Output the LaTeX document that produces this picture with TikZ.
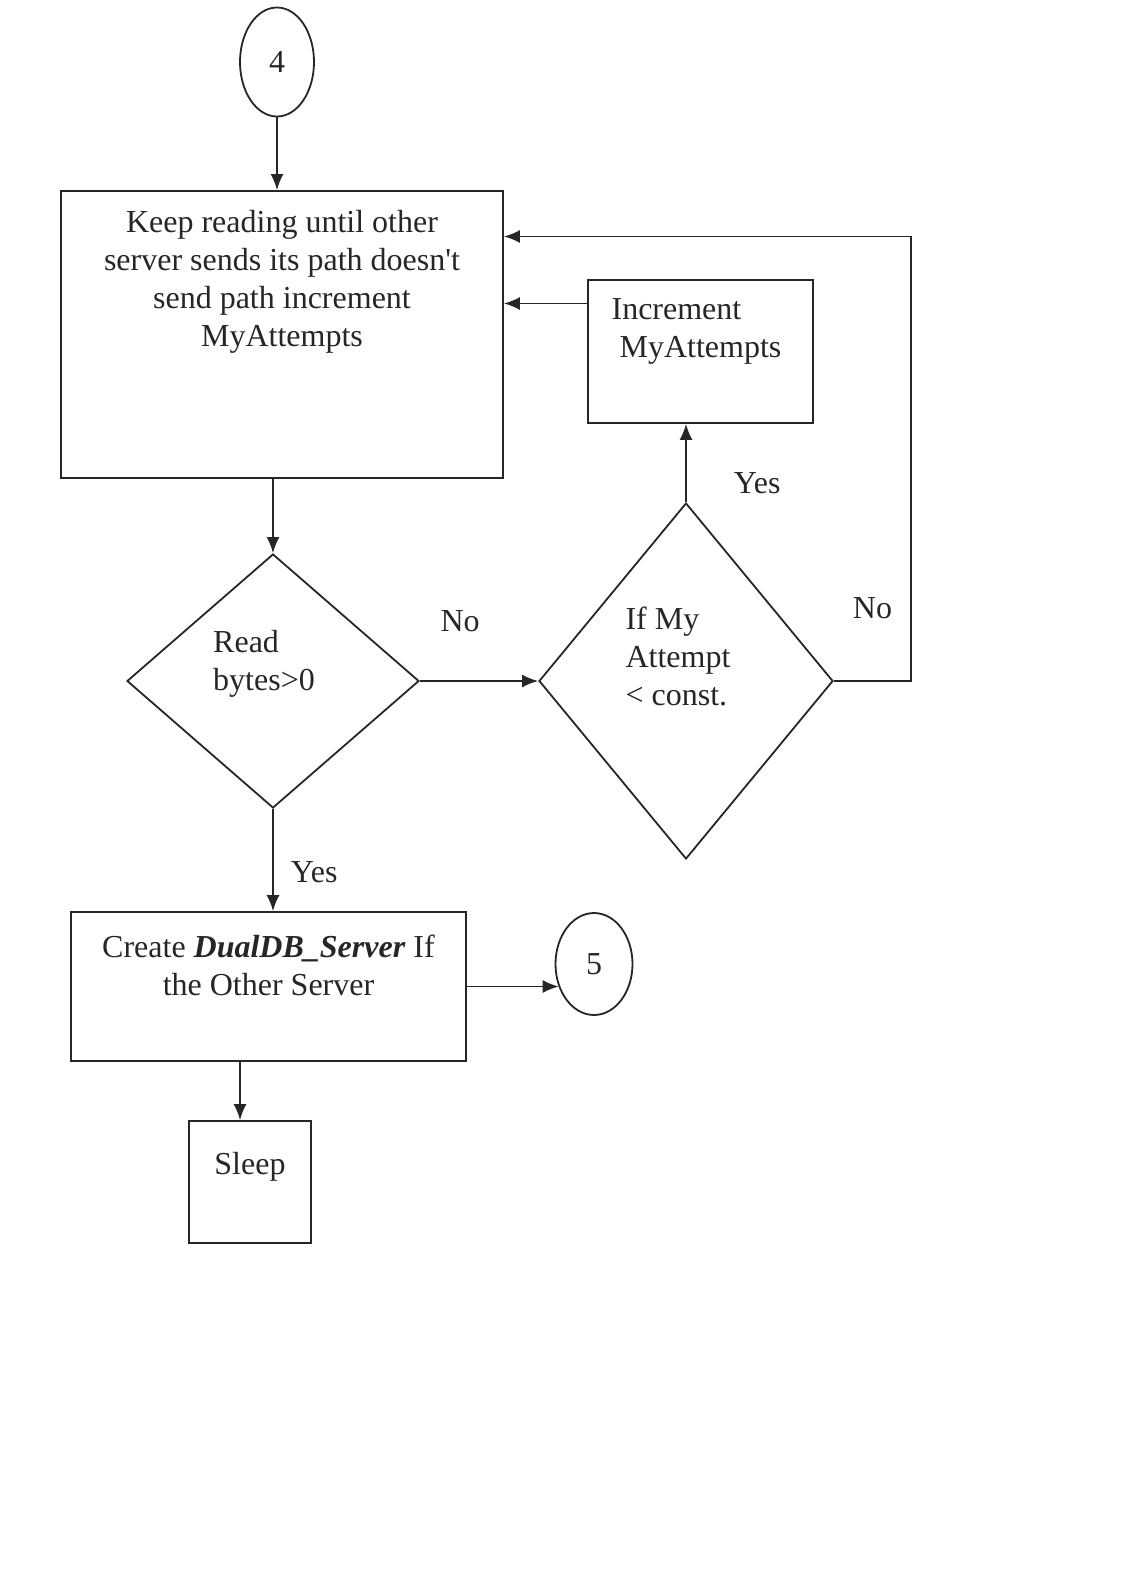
\documentclass[tikz,border=0pt]{standalone}
\usepackage{fontspec}
\setmainfont{Liberation Serif}
\usetikzlibrary{shapes.geometric,arrows.meta,calc}
\tikzset{txt/.style={font=\fontsize{16pt}{19pt}\selectfont, inner sep=0pt},
         box/.style = {draw, rectangle, inner sep=0pt},
         decision/.style = {draw, diamond, inner sep=0pt},
         conn/.style = {draw, ellipse, inner sep=0pt, txt},
         line/.style = {>={Latex[length=8pt,width=6.5pt]},->,draw}}

\begin{document}
\begin{tikzpicture}[x=0.5pt,y=-0.5pt,line width=0.9pt,color=black!85]
\useasboundingbox (0,0) rectangle (1134,1595);

\node (c4) [conn, minimum width=37pt, minimum height=54.5pt] at (277,62) {4};
\node (keep) [box, minimum width=221pt, minimum height=143.5pt,
  label={[txt,align=center,anchor=north,yshift=-9.5pt]north:Keep reading until other\\server sends its path doesn\textquotesingle t\\send path increment\\MyAttempts}] at (282,334.5) {};
\node (inc) [box, minimum width=112.5pt, minimum height=71.5pt,
  label={[txt,align=left,anchor=north,xshift=-2pt,yshift=-9.5pt]north:Increment\\\hspace*{4pt}MyAttempts}] at (700.5,351.5) {};
\node (read) [decision, minimum width=146pt, minimum height=127pt,
  label={[txt,align=left,shift={(-4.5pt,8.75pt)}]center:Read\\bytes>0}] at (273,681) {};
\node (att) [decision, minimum width=147pt, minimum height=178pt,
  label={[txt,align=left,shift={(-4pt,12.5pt)}]center:If My\\Attempt\\< const.}] at (686,681) {};
\node (create) [box, minimum width=197.5pt, minimum height=74.5pt,
  label={[txt,align=center,anchor=north,yshift=-11.5pt]north:Create \textbf{\textit{DualDB\_Server}} If\\the Other Server}] at (268.5,986.5) {};
\node (c5) [conn, minimum width=38.5pt, minimum height=51pt] at (594,964) {5};
\node (sleep) [box, minimum width=61pt, minimum height=61pt,
  label={[txt,anchor=north,yshift=-15.5pt]north:Sleep}] at (250,1182) {};

% Draw connections between nodes
\draw [line] (c4) -- (c4 |- keep.north);
\draw [line] (read.north |- keep.south) -- (read.north);
\draw [line] (read.east) -- node[txt, pos=0.34, anchor=base, yshift=25pt] {No} (att.west);
\draw [line] (att.north) -- node[txt, pos=0.16, anchor=base west, xshift=23.5pt, yshift=-2pt] {Yes} (att.north |- inc.south);
\draw [line] ([yshift=24pt]inc.west) -- ([yshift=24pt]inc.west -| keep.east);
\draw [line] (att.east) -- ++(38.5pt,0) |- node[txt, pos=0.07, anchor=base east, xshift=-9pt] {No} ([yshift=49pt]keep.east);
\draw [line] (read.south) -- node[txt, pos=0.72, anchor=base west, xshift=8.5pt] {Yes} (read.south |- create.north);
\draw [line] (create.east) -- (create.east -| c5.213);
\draw [line] ([xshift=-5pt]sleep.north |- create.south) -- ([xshift=-5pt]sleep.north);
\end{tikzpicture}
\end{document}
